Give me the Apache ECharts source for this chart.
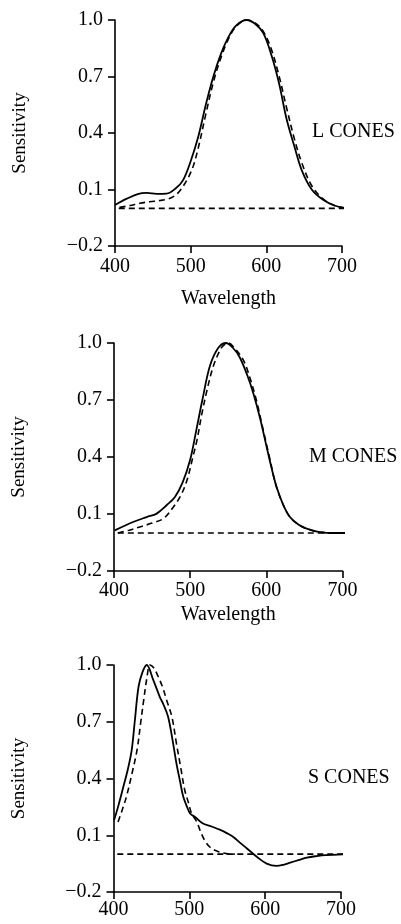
<!DOCTYPE html>
<html>
<head>
<meta charset="utf-8">
<script src="https://cdn.jsdelivr.net/npm/echarts@6/dist/echarts.min.js"></script>
<style>
html,body{margin:0;padding:0;background:#fff;}
#chart{width:401px;height:924px;}
</style>
</head>
<body>
<div id="chart"></div>
<script>
// ---- data ----
const xTicks = [400, 500, 600, 700];
const yTicks = [-0.2, 0.1, 0.4, 0.7, 1.0];
const panelLabels = ['L CONES', 'M CONES', 'S CONES'];
const baselineX = [405, 706];
const baselineY = [0, 0];

const lSolidX = [400, 415, 430, 442, 455, 468, 480, 490, 500, 510, 520, 530, 540, 550, 560, 574, 585, 596, 607, 617, 627, 637, 647, 660, 675, 690, 706];
const lSolidY = [0.018, 0.05, 0.076, 0.082, 0.077, 0.078, 0.105, 0.15, 0.25, 0.38, 0.55, 0.70, 0.82, 0.91, 0.97, 1.0, 0.98, 0.93, 0.81, 0.66, 0.47, 0.33, 0.20, 0.10, 0.045, 0.015, 0.0];
const lDashX = [406, 420, 433, 446, 460, 470, 477, 485, 495, 503, 510, 520, 530, 540, 550, 560, 574, 585, 596, 607, 617, 627, 637, 647, 660, 675, 690, 706];
const lDashY = [0.005, 0.015, 0.027, 0.035, 0.042, 0.05, 0.062, 0.09, 0.15, 0.22, 0.32, 0.50, 0.67, 0.80, 0.90, 0.965, 1.0, 0.985, 0.94, 0.84, 0.70, 0.53, 0.37, 0.24, 0.12, 0.05, 0.015, 0.0];

const mSolidX = [401, 425, 443, 456, 469, 480, 490, 500, 508, 516, 526, 537, 547, 556, 565, 575, 583, 592, 600, 607, 614, 622, 631, 642, 653, 670, 690, 706];
const mSolidY = [0.014, 0.058, 0.084, 0.102, 0.146, 0.19, 0.265, 0.385, 0.54, 0.70, 0.88, 0.975, 1.0, 0.975, 0.925, 0.83, 0.734, 0.60, 0.46, 0.34, 0.235, 0.15, 0.084, 0.045, 0.023, 0.005, 0.0, 0.0];
const mDashX = [405, 420, 434, 450, 465, 478, 488, 496, 503, 509, 515, 522, 529, 535, 542, 550, 559, 570, 579, 587, 596, 605, 612, 622, 631, 642, 653, 670, 690, 706];
const mDashY = [0.0, 0.015, 0.032, 0.052, 0.076, 0.137, 0.20, 0.28, 0.39, 0.49, 0.62, 0.75, 0.86, 0.926, 0.98, 1.0, 0.97, 0.909, 0.81, 0.698, 0.54, 0.383, 0.26, 0.15, 0.084, 0.045, 0.023, 0.005, 0.0, 0.0];

const sSolidX = [400.7, 406, 413, 419, 424, 428, 433, 438, 443.8, 452.5, 461, 466, 472, 478, 483, 488, 492, 497, 501, 508, 518, 530, 540, 550, 558, 567, 576, 589, 602, 615, 625, 633, 645, 655, 668, 680, 707];
const sSolidY = [0.179, 0.25, 0.356, 0.45, 0.55, 0.70, 0.885, 0.96, 1.0, 0.92, 0.832, 0.79, 0.726, 0.60, 0.48, 0.38, 0.303, 0.25, 0.215, 0.195, 0.162, 0.145, 0.13, 0.11, 0.091, 0.06, 0.03, -0.014, -0.05, -0.062, -0.055, -0.045, -0.03, -0.018, -0.01, -0.005, 0.0];
const sDashX = [406, 412, 417, 424, 431, 436, 440, 444, 448, 453, 459, 465, 470, 477, 483, 489, 494, 499, 503, 510, 514, 520, 527, 537, 549, 560];
const sDashY = [0.17, 0.24, 0.303, 0.42, 0.55, 0.70, 0.82, 0.93, 1.0, 0.985, 0.938, 0.88, 0.815, 0.726, 0.585, 0.45, 0.338, 0.27, 0.215, 0.17, 0.127, 0.075, 0.038, 0.015, 0.003, 0.0];

// ---- layout ----
const FONT = "'Liberation Serif', 'DejaVu Serif', serif";
const grids = [
  {left: 115, top: 20, width: 227, height: 226},
  {left: 114, top: 343, width: 228.5, height: 228},
  {left: 113.5, top: 665, width: 227.5, height: 227}
];
const xNameGaps = [43, 34, null];
const xLabelMargins = [11, 10, 8];
const labelPos = [[312, 132], [309, 457], [308, 778]];

const zip = (xs, ys) => xs.map((x, i) => [x, ys[i]]);
const fmtY = v => (v < 0 ? '\u2212' : '') + Math.abs(v).toFixed(1);

const sets = [
  [lSolidX, lSolidY, lDashX, lDashY],
  [mSolidX, mSolidY, mDashX, mDashY],
  [sSolidX, sSolidY, sDashX, sDashY]
];

const xAxes = [], yAxes = [], series = [], graphics = [];
grids.forEach((g, i) => {
  xAxes.push({
    type: 'value', gridIndex: i, min: 400, max: 700, interval: 100,
    name: xNameGaps[i] === null ? '' : 'Wavelength',
    nameLocation: 'middle', nameGap: xNameGaps[i] || 0,
    nameTextStyle: {fontFamily: FONT, fontSize: 20, color: '#000'},
    axisLine: {onZero: false, lineStyle: {color: '#000', width: 1.6}},
    axisTick: {length: 7, lineStyle: {color: '#000', width: 1.6}},
    axisLabel: {fontFamily: FONT, fontSize: 20, color: '#000', margin: xLabelMargins[i]},
    splitLine: {show: false}
  });
  yAxes.push({
    type: 'value', gridIndex: i, min: -0.2, max: 1.0,
    name: 'Sensitivity', nameLocation: 'middle', nameGap: 85,
    nameTextStyle: {fontFamily: FONT, fontSize: 19, color: '#000'},
    axisLine: {onZero: false, lineStyle: {color: '#000', width: 1.6}},
    axisTick: {length: 7, customValues: yTicks, lineStyle: {color: '#000', width: 1.6}},
    axisLabel: {fontFamily: FONT, fontSize: 20, color: '#000', margin: 12, customValues: yTicks, formatter: fmtY},
    splitLine: {show: false}
  });
  const [sx, sy, dx, dy] = sets[i];
  const common = {type: 'line', xAxisIndex: i, yAxisIndex: i, showSymbol: false, symbol: 'none', clip: false, silent: true, animation: false};
  series.push(Object.assign({}, common, {data: zip(baselineX, baselineY), lineStyle: {color: '#000', width: 1.6, type: [6, 4]}}));
  series.push(Object.assign({}, common, {data: zip(dx, dy), smooth: 0.35, lineStyle: {color: '#000', width: 1.6, type: [6, 4]}}));
  series.push(Object.assign({}, common, {data: zip(sx, sy), smooth: 0.35, lineStyle: {color: '#000', width: 1.8}}));
  graphics.push({
    type: 'text', x: labelPos[i][0], y: labelPos[i][1],
    style: {text: panelLabels[i], fontFamily: FONT, fontSize: 20, fill: '#000', verticalAlign: 'middle', align: 'left'}
  });
});

const chart = echarts.init(document.getElementById('chart'), null, {renderer: 'canvas'});
chart.setOption({
  backgroundColor: '#fff',
  animation: false,
  grid: grids,
  xAxis: xAxes,
  yAxis: yAxes,
  series: series,
  graphic: graphics
});
</script>
</body>
</html>
